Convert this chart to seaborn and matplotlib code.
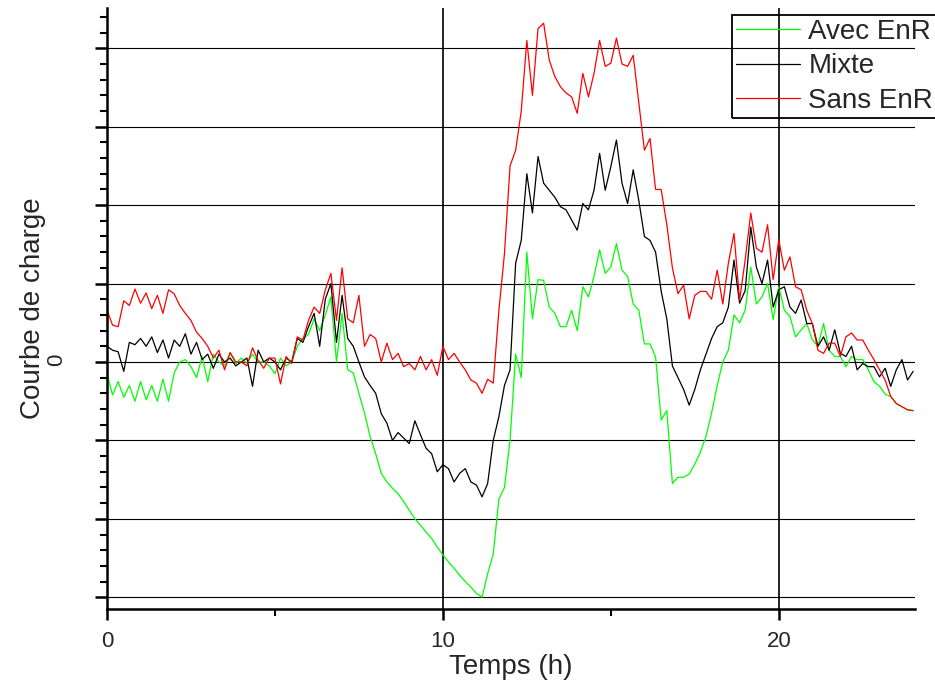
import numpy as np
import pandas as pd
import matplotlib
matplotlib.use('Agg')
import matplotlib.pyplot as plt
import seaborn as sns
from matplotlib.ticker import MultipleLocator, FuncFormatter

# Time grid: one value every 10 minutes over 24 h
hours = np.arange(145) / 6

series = ['Avec EnR', 'Mixte', 'Sans EnR']
colors = {'Avec EnR': '#00ff00', 'Mixte': 'black', 'Sans EnR': '#ff0000'}

# Values (one grid line = 1 unit)
avec_enr = [
    -0.15, -0.42, -0.25, -0.45, -0.30, -0.50,
    -0.25, -0.48, -0.30, -0.50, -0.22, -0.50,
    -0.14, 0.00, 0.03, -0.06, -0.20, 0.07,
    -0.25, 0.10, 0.00, -0.05, 0.12, -0.02,
    0.05, -0.02, 0.10, 0.00, 0.00, -0.05,
    -0.15, 0.05, -0.05, 0.00, 0.20, 0.30,
    0.35, 0.55, 0.40, 0.60, 0.83, 0.00,
    0.62, -0.10, -0.14, -0.40, -0.65, -0.95,
    -1.17, -1.42, -1.53, -1.61, -1.68, -1.78,
    -1.89, -2.00, -2.08, -2.17, -2.25, -2.36,
    -2.46, -2.55, -2.63, -2.72, -2.80, -2.87,
    -2.95, -3.00, -2.70, -2.45, -1.75, -1.60,
    -1.00, 0.10, -0.20, 1.40, 0.55, 1.05,
    1.04, 0.70, 0.62, 0.45, 0.45, 0.66,
    0.40, 0.96, 0.83, 1.09, 1.43, 1.13,
    1.21, 1.51, 1.17, 1.09, 0.74, 0.66,
    0.23, 0.23, 0.06, -0.74, -0.62, -1.55,
    -1.47, -1.47, -1.43, -1.30, -1.15, -0.95,
    -0.65, -0.30, 0.00, 0.15, 0.60, 0.50,
    0.66, 1.21, 0.74, 0.83, 1.00, 0.54,
    0.96, 0.66, 0.58, 0.32, 0.41, 0.49,
    0.28, 0.20, 0.49, 0.15, 0.07, 0.07,
    -0.06, 0.07, 0.03, 0.03, -0.10, -0.25,
    -0.31, -0.41, -0.44, -0.53, -0.57, -0.61,
    -0.62,
]

mixte = [
    0.20, 0.15, 0.13, -0.12, 0.25, 0.22,
    0.30, 0.20, 0.32, 0.12, 0.28, 0.05,
    0.28, 0.20, 0.36, 0.10, 0.25, 0.03,
    0.10, -0.08, 0.10, 0.00, 0.05, -0.05,
    0.00, 0.05, -0.31, 0.15, 0.00, 0.05,
    0.00, -0.10, 0.05, 0.00, 0.30, 0.25,
    0.45, 0.62, 0.20, 0.80, 1.00, 0.25,
    0.85, 0.30, 0.20, 0.00, -0.19, -0.30,
    -0.40, -0.66, -0.78, -1.00, -0.90, -0.97,
    -1.04, -0.75, -0.93, -1.10, -1.17, -1.40,
    -1.31, -1.36, -1.53, -1.42, -1.36, -1.53,
    -1.57, -1.72, -1.55, -1.00, -0.70, -0.30,
    -0.10, 1.26, 1.55, 2.40, 1.90, 2.62,
    2.28, 2.19, 2.10, 1.98, 1.94, 1.81,
    1.68, 2.02, 1.94, 2.19, 2.66, 2.19,
    2.49, 2.83, 2.28, 2.02, 2.45, 2.06,
    1.60, 1.55, 1.40, 0.90, 0.55, -0.05,
    -0.20, -0.35, -0.55, -0.35, -0.10, 0.10,
    0.30, 0.45, 0.50, 0.70, 1.30, 0.75,
    0.91, 1.72, 1.21, 1.00, 1.30, 0.70,
    0.92, 0.96, 0.70, 0.62, 0.79, 0.49,
    0.49, 0.20, 0.32, 0.15, 0.41, 0.11,
    0.07, 0.20, -0.10, -0.02, -0.06, -0.06,
    -0.19, -0.08, -0.31, -0.10, 0.03, -0.23,
    -0.12,
]

sans_enr = [
    0.66, 0.47, 0.45, 0.78, 0.72, 0.93,
    0.75, 0.88, 0.68, 0.85, 0.62, 0.92,
    0.87, 0.72, 0.62, 0.53, 0.38, 0.30,
    0.20, 0.05, 0.15, -0.10, 0.12, 0.00,
    0.00, -0.05, 0.18, 0.02, -0.08, 0.05,
    0.05, -0.28, 0.07, -0.02, 0.32, 0.28,
    0.53, 0.70, 0.62, 0.92, 1.13, 0.53,
    1.20, 0.55, 0.50, 0.85, 0.20, 0.35,
    0.30, 0.00, 0.24, 0.03, 0.11, -0.06,
    -0.02, -0.10, 0.07, -0.10, 0.03, -0.17,
    0.20, 0.03, 0.11, 0.00, -0.10, -0.23,
    -0.27, -0.40, -0.22, -0.27, 0.65, 1.38,
    2.50, 2.70, 3.20, 4.10, 3.40, 4.25,
    4.32, 3.85, 3.64, 3.51, 3.43, 3.38,
    3.17, 3.68, 3.38, 3.68, 4.10, 3.77,
    3.81, 4.13, 3.80, 3.77, 3.91, 3.30,
    2.70, 2.85, 2.20, 2.20, 1.75, 1.20,
    0.87, 0.98, 0.55, 0.85, 0.90, 0.90,
    0.80, 1.17, 0.74, 1.26, 1.64, 0.79,
    1.30, 1.90, 1.45, 1.40, 1.75, 1.05,
    1.56, 1.17, 1.34, 0.96, 0.92, 0.66,
    0.49, 0.15, 0.11, 0.24, 0.24, 0.07,
    0.32, 0.37, 0.28, 0.28, 0.15, 0.03,
    -0.10, -0.23, -0.44, -0.53, -0.57, -0.61,
    -0.62,
]

df = pd.DataFrame({
    'Temps': np.tile(hours, 3),
    'Charge': avec_enr + mixte + sans_enr,
    'Serie': np.repeat(series, len(hours)),
})

sns.set_style('white')
plt.rcParams['font.family'] = ['Liberation Sans', 'DejaVu Sans']

fig = plt.figure(figsize=(9.35, 6.8), dpi=100)
ax = fig.add_axes([0.1144, 0.1044, 0.864, 0.884])

sns.lineplot(data=df, x='Temps', y='Charge', hue='Serie', hue_order=series,
             palette=colors, linewidth=0.9, legend=False, ax=ax)

ax.set_xlim(0, 24.05)
ax.set_ylim(-3.15, 4.515)

ax.xaxis.set_major_locator(MultipleLocator(10))
ax.xaxis.set_minor_locator(MultipleLocator(5))
ax.yaxis.set_major_locator(MultipleLocator(1))
ax.yaxis.set_minor_locator(MultipleLocator(0.2))
ax.yaxis.set_major_formatter(FuncFormatter(lambda v, p: '0' if abs(v) < 1e-9 else ''))

ax.tick_params(axis='both', which='both', direction='out', color='black')
ax.tick_params(axis='x', which='major', length=8, width=1.8, labelsize=16, pad=8)
ax.tick_params(axis='x', which='minor', length=5, width=1.5)
ax.tick_params(axis='y', which='major', length=9, width=1.8, labelsize=16,
               labelrotation=90, pad=20)
ax.tick_params(axis='y', which='minor', length=5, width=1.5)
ax.tick_params(left=True, bottom=True, which='both')

ax.grid(axis='y', which='major', color='black', linewidth=0.8)
ax.grid(axis='x', which='major', color='black', linewidth=1.2)

for side in ['top', 'right']:
    ax.spines[side].set_visible(False)
for side in ['left', 'bottom']:
    ax.spines[side].set_linewidth(1.8)
    ax.spines[side].set_color('black')

ax.set_xlabel('Temps (h)', fontsize=20, labelpad=1)
ax.set_ylabel('Courbe de charge', fontsize=20, labelpad=0)

leg = ax.legend(ax.get_lines()[:3], series, loc='upper left',
                bbox_to_anchor=(0.783, 0.978), bbox_transform=fig.transFigure,
                fontsize=20, frameon=True, fancybox=False, framealpha=1,
                facecolor='none', edgecolor='black', borderpad=0.15,
                labelspacing=0.3, handlelength=2.3, handletextpad=0.3,
                borderaxespad=0)
leg.get_frame().set_linewidth(1.3)

fig.savefig('out.png', dpi=100)
